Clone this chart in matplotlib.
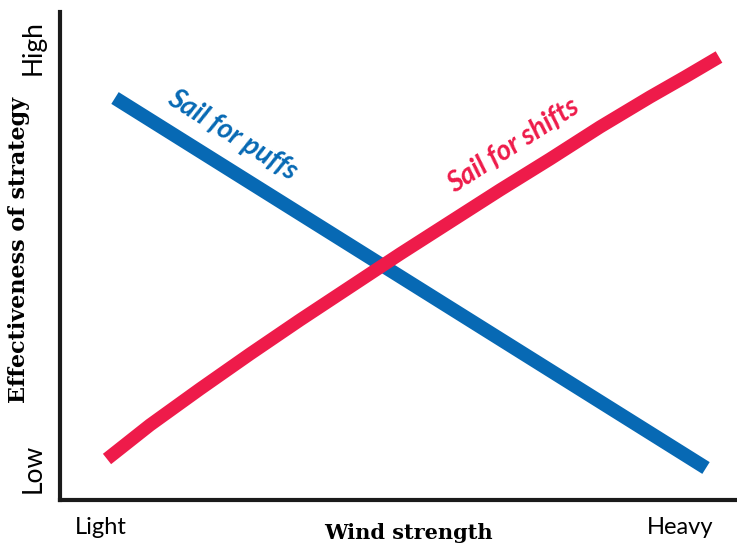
import matplotlib.pyplot as plt
import numpy as np

# Wind strength (x) vs effectiveness (y), both on a 0-677 / 0-488 scale
puffs_x = [55, 646]
puffs_y = [402, 32]

shifts_x = [47, 90, 140, 190, 240, 290, 340, 390, 440, 490, 540, 590, 625, 659]
shifts_y = [41, 75, 111, 146, 180, 213, 246, 278, 310, 341, 373, 403, 423, 443]

blue = '#0769b4'
red = '#ee1b4a'

fig = plt.figure(figsize=(7.37, 5.46), dpi=100)
ax = fig.add_axes([60/737, 46/546, 677/737, 488/546])

ax.plot(puffs_x, puffs_y, color=blue, linewidth=10, solid_capstyle='butt')
ax.plot(shifts_x, shifts_y, color=red, linewidth=9.5, solid_capstyle='butt',
        solid_joinstyle='round')

ax.set_xlim(0, 677)
ax.set_ylim(0, 488)
ax.set_xticks([])
ax.set_yticks([])
for s in ['top', 'right']:
    ax.spines[s].set_visible(False)
for s in ['left', 'bottom']:
    ax.spines[s].set_linewidth(3)
    ax.spines[s].set_color('#1a1a1a')

# line labels
ax.text(172, 365, 'Sail for puffs', color=blue, fontsize=20, family='Lato',
        weight='bold', style='italic', rotation=-32, ha='center', va='center',
        rotation_mode='anchor')
ax.text(453, 354, 'Sail for shifts', color=red, fontsize=20, family='Lato',
        weight='bold', style='italic', rotation=33, ha='center', va='center',
        rotation_mode='anchor')

# axis labels
fig.text(101/737, 1 - 527/546, 'Light', fontsize=17, family='Lato',
         ha='center', va='center')
fig.text(680/737, 1 - 527/546, 'Heavy', fontsize=17, family='Lato',
         ha='center', va='center')
fig.text(408/737, 1 - 533/546, 'Wind strength', fontsize=15,
         family='DejaVu Serif', weight='bold', ha='center', va='center')
fig.text(33/737, 1 - 48/546, 'High', fontsize=19, family='Lato',
         rotation=90, ha='center', va='center')
fig.text(33/737, 1 - 468/546, 'Low', fontsize=19, family='Lato',
         rotation=90, ha='center', va='center')
fig.text(19/737, 1 - 250/546, 'Effectiveness of strategy', fontsize=16,
         family='DejaVu Serif', weight='bold', rotation=90,
         ha='center', va='center')

plt.savefig('out.png', dpi=100)
